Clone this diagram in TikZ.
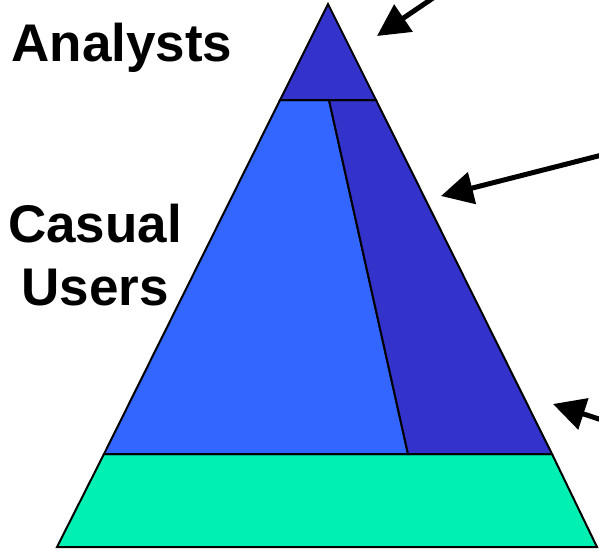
\documentclass[tikz,border=0pt]{standalone}
\usepackage{fontspec}
\setmainfont{Liberation Sans}
\usetikzlibrary{arrows.meta}
\definecolor{darkblue}{HTML}{3333CC}
\definecolor{lightblue}{HTML}{3366FF}
\definecolor{teal}{HTML}{00F0B4}
\begin{document}
\begin{tikzpicture}[x=1pt,y=-1pt,
  tier/.style={draw=black,line width=2pt,line join=miter},
  lbl/.style={font=\bfseries\fontsize{53}{63}\selectfont,align=center,inner sep=0pt},
  pointer/.style={line width=5pt,-{Triangle[length=32pt,width=32pt]}}]
\useasboundingbox (0,0) rectangle (599,550);
% tiers
\path[tier,fill=teal] (57,547) -- (597,547) -- (552,454) -- (104,454) -- cycle;
\path[tier,fill=lightblue] (104,454) -- (408,454) -- (329,100) -- (280,100) -- cycle;
\path[tier,fill=darkblue] (408,454) -- (552,454) -- (376,100) -- (329,100) -- cycle;
\path[tier,fill=darkblue] (280,100) -- (376,100) -- (328,4) -- cycle;
% labels
\node[lbl] (analysts) at (122,48) {Analysts};
\node[lbl] (casual) at (95,255) {Casual\\Users};
% pointers
\coordinate (t1) at (436,-4);
\coordinate (h1) at (377,36);
\coordinate (t2) at (602,155);
\coordinate (h2) at (441,196);
\coordinate (t3) at (602,420);
\coordinate (h3) at (553,404);
\draw[pointer] (t1) -- (h1);
\draw[pointer] (t2) -- (h2);
\draw[pointer] (t3) -- (h3);
\end{tikzpicture}
\end{document}
